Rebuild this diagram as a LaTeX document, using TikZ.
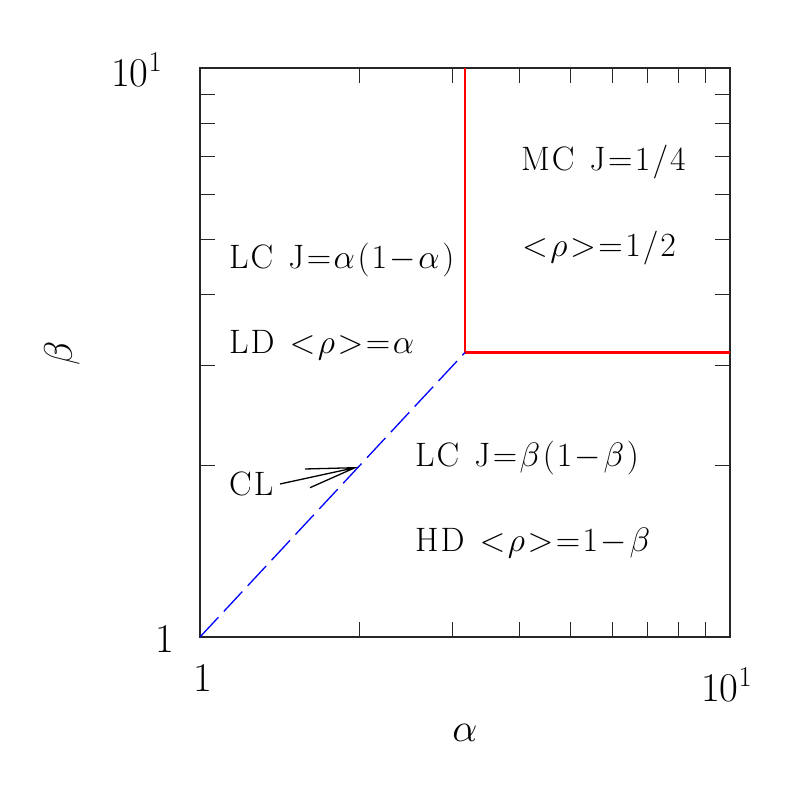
\RequirePackage{fix-cm}
\documentclass[tikz,border=0pt]{standalone}
\usepackage{fontspec}
\newfontfamily\lbfont{Latin Modern Roman}[LetterSpace=6]
\newcommand{\gp}{\kern2.5bp}
\newcommand{\wgap}{\hspace{15bp}}
\usetikzlibrary{calc}
\begin{document}
\begin{tikzpicture}[x=1bp,y=1bp,
  frame/.style={line width=1.2bp,black!85},
  tickline/.style={line width=1bp,black!85},
  phase/.style={line width=2.2bp,red},
  cross/.style={line width=1.3bp,blue,dash pattern=on 27bp off 8bp},
  lbl/.style={anchor=base west,inner sep=0pt,font=\fontsize{34}{40}\lbfont},
  axnum/.style={anchor=base west,inner sep=0pt,font=\fontsize{41}{48}\selectfont},
  axlbl/.style={inner sep=0pt,font=\fontsize{40}{48}\selectfont}]
\useasboundingbox (0,0) rectangle (797,797);
% frame
\coordinate (BL) at (200,160);
\coordinate (TR) at (730,729);
\draw[frame] (BL) rectangle (TR);
% minor ticks
\foreach \k in {2,...,9}{
  \pgfmathsetmacro{\xx}{200+530*log10(\k)}
  \pgfmathsetmacro{\yy}{160+569*log10(\k)}
  \draw[tickline] (\xx,160) -- (\xx,175);
  \draw[tickline] (\xx,729) -- (\xx,714);
  \draw[tickline] (200,\yy) -- (215,\yy);
  \draw[tickline] (730,\yy) -- (715,\yy);
}
% phase boundaries
\coordinate (P) at (465,444.5);
\coordinate (Ptop) at (465,729);
\coordinate (Pright) at (730,444.5);
\draw[phase] (Ptop) -- (P) -- (Pright);
\draw[cross] (BL) -- (P);
% axis numbers
\node[axnum] (y1) at (155,144) {1};
\node[axnum] (x1) at (193,105) {1};
\node[axnum] (y10) at (111,710.3) {10$^{1}$};
\node[axnum] (x10) at (701,95.3) {10$^{1}$};
\node[axlbl] (alab) at (465,64) {$\alpha$};
\node[axlbl,rotate=90] (blab) at (62,444) {$\beta$};
% region labels
\node[lbl] (mc1) at (521,626.3) {MC\wgap J\gp$=$\gp 1/4};
\node[lbl] (mc2) at (522,540.3) {$<$\gp$\rho$\gp$>$\gp$=$\gp 1/2};
\node[lbl] (lc1) at (229,528.7) {LC\wgap J\gp$=$\gp$\alpha$\gp(1\gp$-$\gp$\alpha$\gp)};
\node[lbl] (ld) at (229,443.7) {LD\wgap$<$\gp$\rho$\gp$>$\gp$=$\gp$\alpha$};
\node[lbl] (cl) at (229,301) {CL};
\node[lbl] (lc2) at (415,330.3) {LC\wgap J\gp$=$\gp$\beta$\gp(1\gp$-$\gp$\beta$\gp)};
\node[lbl] (hd) at (415,245.3) {HD\wgap$<$\gp$\rho$\gp$>$\gp$=$\gp 1\gp$-$\gp$\beta$};
% arrow
\coordinate (tail) at (280,313);
\coordinate (tip) at (355,329.3);
\coordinate (barbA) at (305,328);
\coordinate (barbB) at (310,309.3);
\draw[line width=1.3bp] (tail) -- (tip) (barbA) -- (tip) -- (barbB);
\end{tikzpicture}
\end{document}
